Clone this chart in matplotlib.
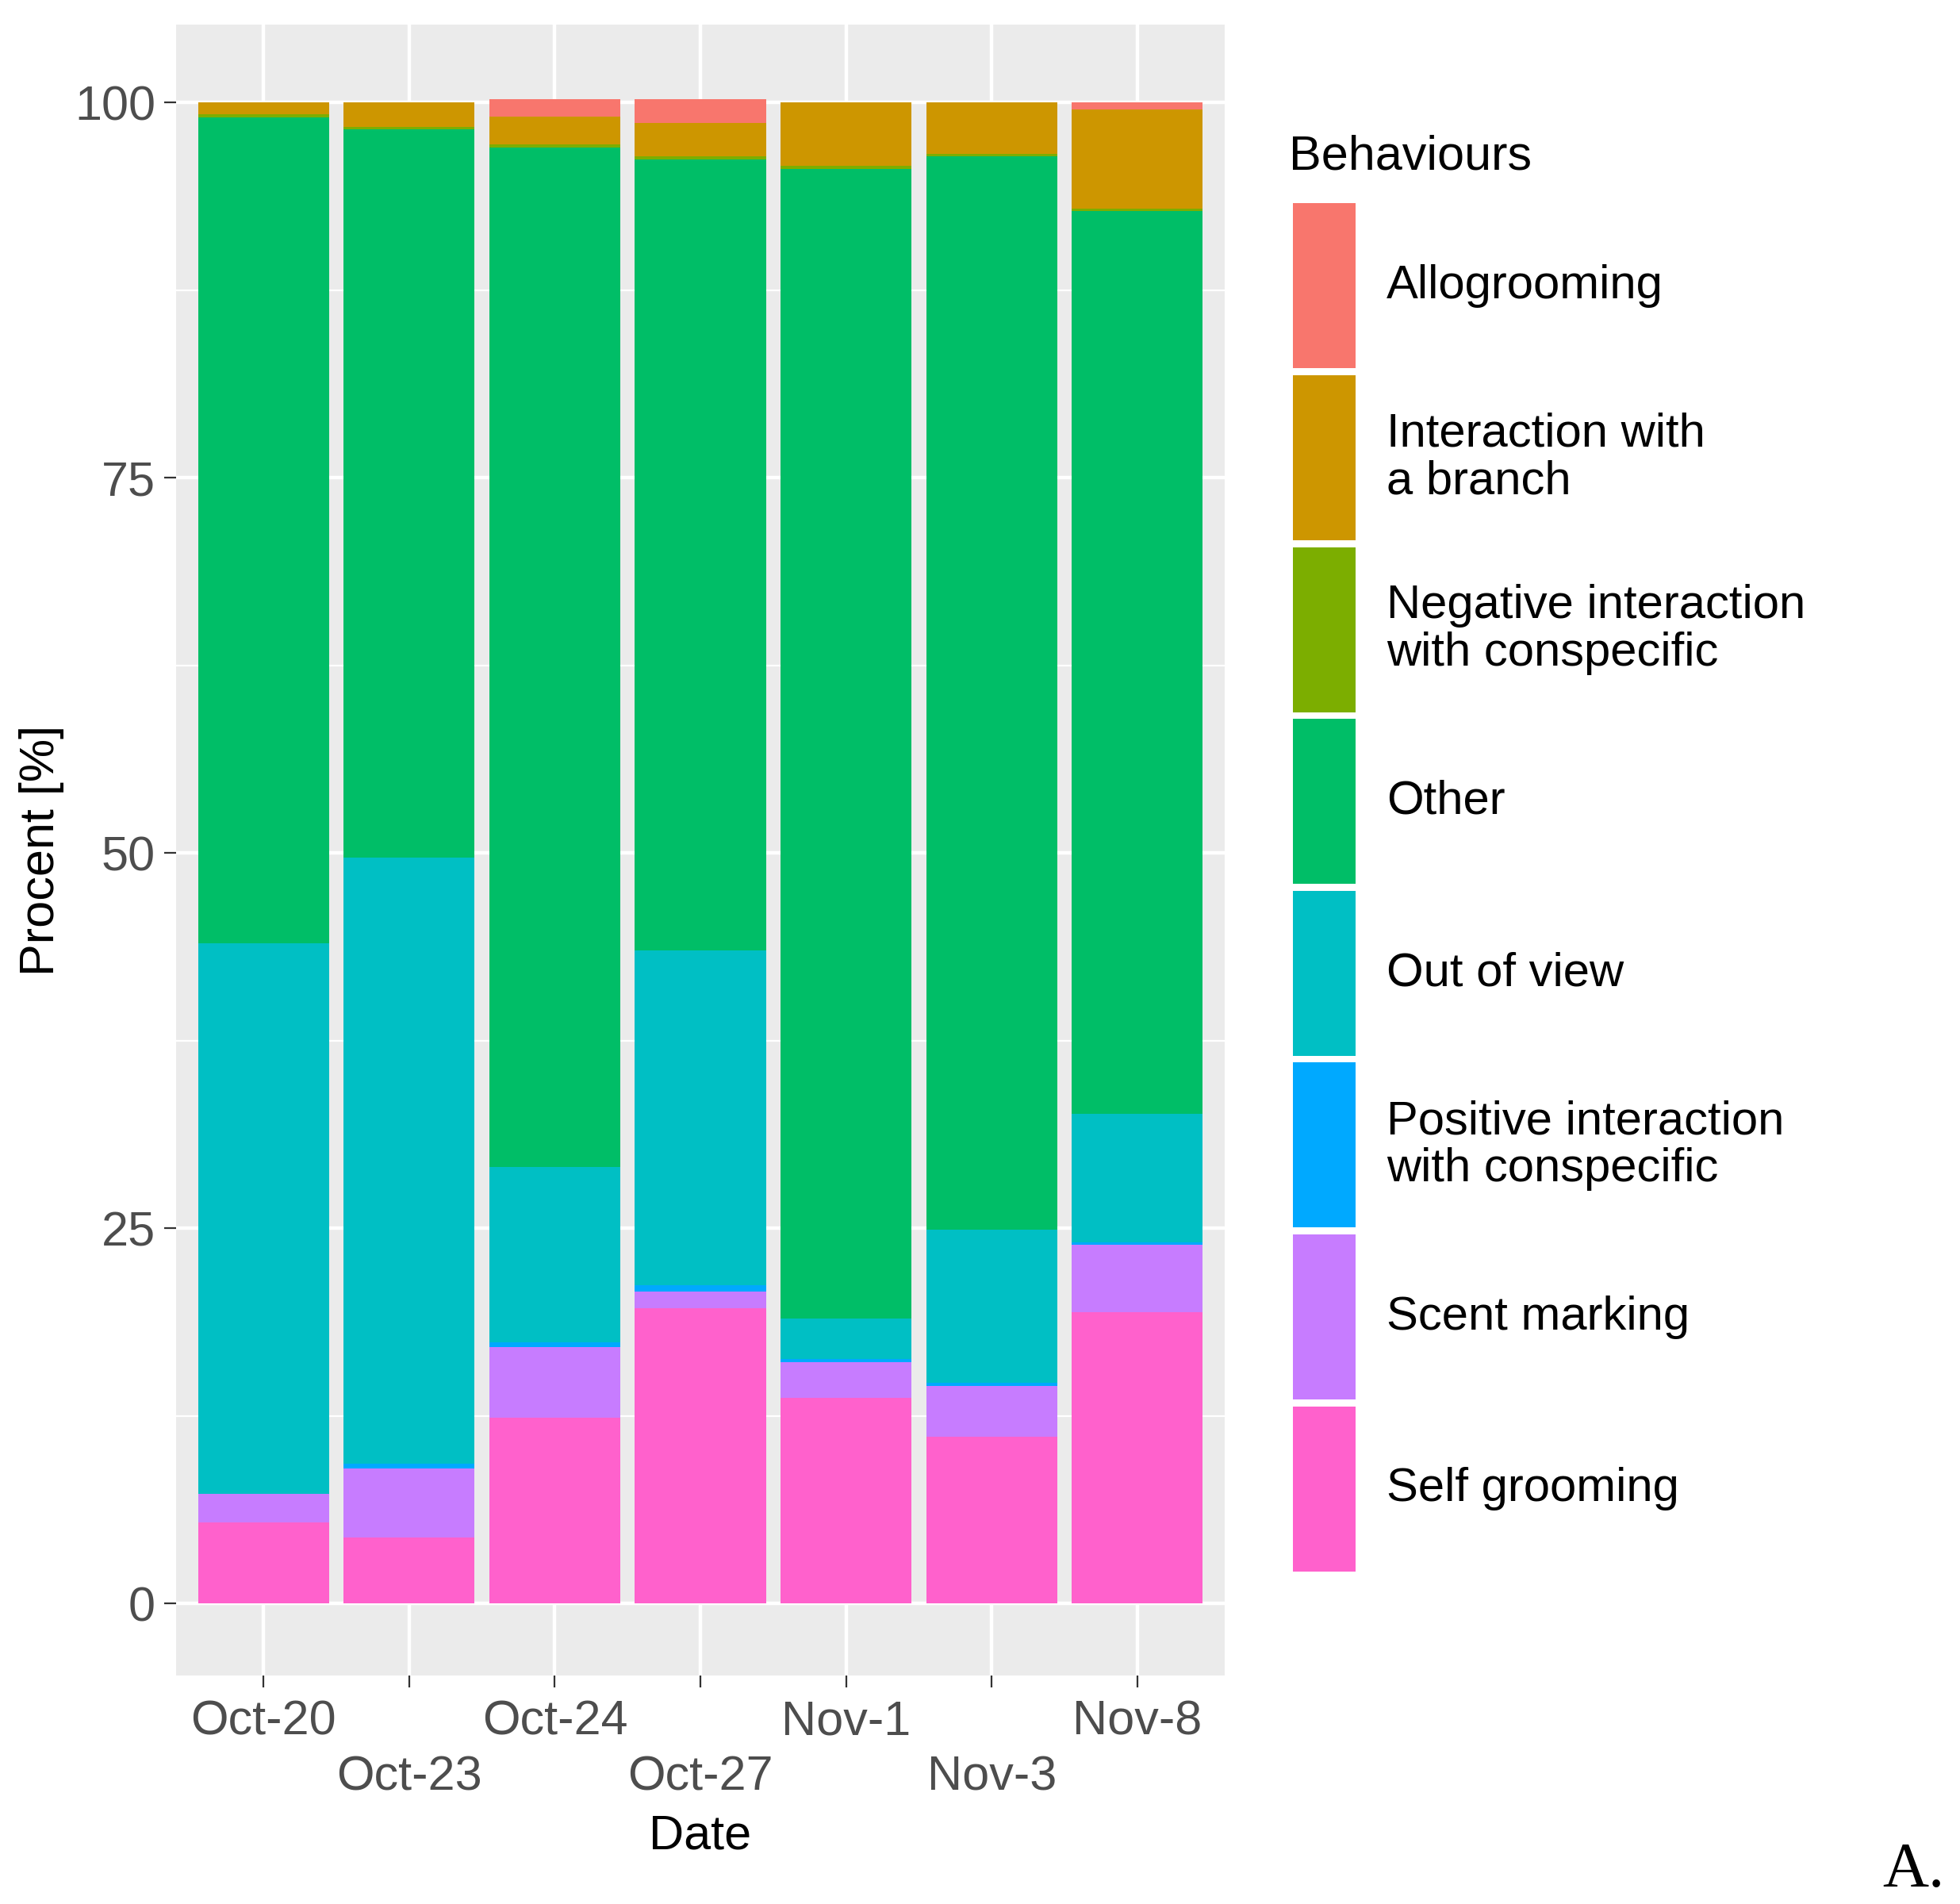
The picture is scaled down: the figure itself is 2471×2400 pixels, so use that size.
import matplotlib.pyplot as plt
from matplotlib.patches import Rectangle

# ---------------------------------------------------------
# Data: percent of observations per behaviour and date
# ---------------------------------------------------------
dates = ['Oct-20', 'Oct-23', 'Oct-24', 'Oct-27', 'Nov-1', 'Nov-3', 'Nov-8']

self_grooming = [5.4, 4.4, 12.4, 19.7, 13.7, 11.1, 19.4]
scent_marking = [1.9, 4.6, 4.7, 1.1, 2.4, 3.4, 4.5]
positive_interaction = [0.0, 0.3, 0.3, 0.4, 0.2, 0.2, 0.15]
out_of_view = [36.7, 40.4, 11.7, 22.3, 2.7, 10.2, 8.55]
other = [55.0, 48.5, 67.9, 52.7, 76.6, 71.5, 60.2]
negative_interaction = [0.25, 0.2, 0.2, 0.2, 0.2, 0.2, 0.15]
branch = [0.75, 1.6, 1.85, 2.25, 4.2, 3.4, 6.6]
allogrooming = [0.0, 0.0, 1.2, 1.6, 0.0, 0.0, 0.45]

# legend order (ggplot stacks the first level on top)
labels = ['Allogrooming', 'Interaction with\na branch',
          'Negative interaction\nwith conspecific', 'Other', 'Out of view',
          'Positive interaction\nwith conspecific', 'Scent marking', 'Self grooming']
series = [allogrooming, branch, negative_interaction, other, out_of_view,
          positive_interaction, scent_marking, self_grooming]
colors = ['#F8766D', '#CD9600', '#7CAE00', '#00BE67', '#00BFC4',
          '#00A9FF', '#C77CFF', '#FF61CC']

plt.rcParams['font.family'] = ['Liberation Sans', 'DejaVu Sans']

W, H = 2471, 2400
fig = plt.figure(figsize=(W / 200, H / 200), dpi=200)
ax = fig.add_axes([222 / W, 1 - 2112 / H, (1544 - 222) / W, (2112 - 31) / H])
ax.set_facecolor('#EBEBEB')

x = list(range(1, len(dates) + 1))
bottom = [0.0] * len(dates)
for vals, col in zip(series[::-1], colors[::-1]):
    ax.bar(x, vals, width=0.9, bottom=bottom, color=col, linewidth=0, zorder=3)
    bottom = [b + v for b, v in zip(bottom, vals)]

ax.set_xlim(0.4, 7.6)
ax.set_ylim(-4.8, 105.2)

# ggplot-like grid
ax.set_yticks([0, 25, 50, 75, 100])
ax.set_yticks([12.5, 37.5, 62.5, 87.5], minor=True)
ax.grid(which='major', color='white', linewidth=1.6, zorder=1)
ax.grid(which='minor', axis='y', color='white', linewidth=0.8, zorder=1)
ax.set_axisbelow(True)
for s in ax.spines.values():
    s.set_visible(False)

# dodged x labels, every second one on a second row
ax.set_xticks(x)
ax.set_xticklabels([d if i % 2 == 0 else '\n' + d for i, d in enumerate(dates)])
for t in ax.get_xticklabels():
    t.set_linespacing(1.3)
ax.tick_params(which='major', length=5.4, width=0.8, color='#333333',
               labelsize=22, labelcolor='#4D4D4D', pad=4)
ax.tick_params(axis='x', pad=5.5)
ax.tick_params(which='minor', length=0)

ax.set_xlabel('Date', fontsize=22, labelpad=6)
ax.set_ylabel('Procent [%]', fontsize=22, labelpad=4.5)

# ---------------------------------------------------------
# Legend drawn as a small side panel
# ---------------------------------------------------------
key_top, key_bot = 252, 1985
lax = fig.add_axes([1630 / W, 1 - key_bot / H, (W - 1630) / W, (key_bot - key_top) / H])
lax.set_xlim(0, W - 1630)
lax.set_ylim(len(labels), 0)
lax.axis('off')
gap = 0.04
for i, (lab, col) in enumerate(zip(labels, colors)):
    lax.add_patch(Rectangle((0, i + gap / 2), 79, 1 - gap, color=col, linewidth=0))
    lax.text(118, i + 0.5, lab, fontsize=21.5, va='center', ha='left',
             linespacing=1.1, color='black')
lax.text(-5, -0.25, 'Behaviours', fontsize=22, va='center', ha='left',
         color='black', clip_on=False)

fig.text(0.992, 0.009, 'A.', fontsize=29, ha='right', va='baseline',
         family=['Liberation Serif', 'DejaVu Serif'])

fig.savefig('out.png', dpi=200, facecolor='white')
